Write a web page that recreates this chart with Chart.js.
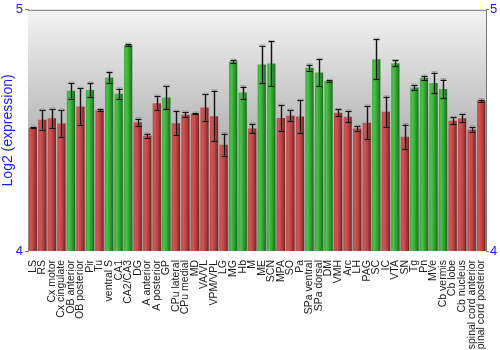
<!DOCTYPE html>
<html lang="en">
<head>
  <meta charset="UTF-8">
  <title>Log2 expression by region</title>
  <script src="https://cdn.jsdelivr.net/npm/chart.js"></script>
  <style>
    html, body { margin: 0; padding: 0; background: #fff; }
    #wrap { width: 500px; height: 350px; }
  </style>
</head>
<body>
  <div id="wrap"><canvas id="grafico"></canvas></div>

  <script>
    const regioes = ['LS', 'RS', 'Cx motor', 'Cx cingulate', 'OB anterior', 'OB posterior', 'Pir', 'Tu',
      'ventral S', 'CA1', 'CA2/CA3', 'DG', 'A anterior', 'A posterior', 'GP', 'CPu lateral', 'CPu medial',
      'MD', 'VA/VL', 'VPM/VPL', 'LG', 'MG', 'Hb', 'M', 'ME', 'SCN', 'MPA', 'SO', 'Pa', 'SPa ventral',
      'SPa dorsal', 'DM', 'VMH', 'Arc', 'LH', 'PAG', 'SC', 'IC', 'VTA', 'SN', 'Tg', 'Pn', 'MVe',
      'Cb vermis', 'Cb lobe', 'Cb nucleus', 'spinal cord anterior', 'spinal cord posterior'];

    const valores = [4.511, 4.544, 4.550, 4.529, 4.664, 4.599, 4.668, 4.584,
      4.719, 4.652, 4.854, 4.534, 4.478, 4.613, 4.636, 4.530, 4.565,
      4.569, 4.595, 4.559, 4.441, 4.786, 4.657, 4.508, 4.773, 4.777, 4.551, 4.561, 4.558, 4.760,
      4.740, 4.705, 4.573, 4.557, 4.508, 4.532, 4.795, 4.577, 4.778, 4.474, 4.678, 4.718, 4.697,
      4.672, 4.540, 4.550, 4.504, 4.623];

    const erros = [0.002, 0.041, 0.039, 0.056, 0.032, 0.076, 0.028, 0.003,
      0.022, 0.021, 0.004, 0.014, 0.008, 0.030, 0.048, 0.049, 0.011,
      0.003, 0.055, 0.105, 0.046, 0.006, 0.025, 0.019, 0.078, 0.092, 0.053, 0.024, 0.067, 0.012,
      0.055, 0.003, 0.014, 0.023, 0.009, 0.069, 0.083, 0.063, 0.012, 0.050, 0.010, 0.008, 0.043,
      0.039, 0.014, 0.017, 0.010, 0.005];

    // 1 = verde, 0 = vermelho
    const grupo = [0, 0, 0, 0, 1, 0, 1, 0,
      1, 1, 1, 0, 0, 0, 1, 0, 0,
      0, 0, 0, 0, 1, 1, 0, 1, 1, 0, 0, 0, 1,
      1, 1, 0, 0, 0, 0, 1, 0, 1, 0, 1, 1, 1,
      1, 0, 0, 0, 0];

    const eixoY = { min: 4, max: 5 };

    const azul = '#1a1aff';
    const larguraBarra = 0.86;

    // gradiente horizontal de cada barra (efeito cilindro)
    function corBarra(ctx) {
      const chart = ctx.chart;
      const x = chart.scales.x;
      if (!x || !chart.chartArea) return grupo[ctx.dataIndex] ? '#3aa83a' : '#b84040';
      const passo = (x.right - x.left) / regioes.length;
      const cx = x.getPixelForValue(ctx.dataIndex);
      const w = passo * larguraBarra;
      const g = chart.ctx.createLinearGradient(cx - w / 2, 0, cx + w / 2, 0);
      if (grupo[ctx.dataIndex]) {
        g.addColorStop(0, '#3aa63a');
        g.addColorStop(0.25, '#4cc24c');
        g.addColorStop(0.65, '#2e9e2e');
        g.addColorStop(1, '#147014');
      } else {
        g.addColorStop(0, '#bb4646');
        g.addColorStop(0.25, '#ce5656');
        g.addColorStop(0.65, '#b43e3e');
        g.addColorStop(1, '#7c1e1e');
      }
      return g;
    }

    const fundo = {
      id: 'fundo',
      beforeDatasetsDraw(chart) {
        const { ctx, chartArea: a } = chart;
        const g = ctx.createLinearGradient(0, a.top, 0, a.bottom);
        g.addColorStop(0, '#f4f4f4');
        g.addColorStop(0.5, '#b8b8b8');
        g.addColorStop(1, '#9a9a9a');
        ctx.save();
        ctx.fillStyle = g;
        ctx.fillRect(a.left, a.top, a.right - a.left, a.bottom - a.top);
        ctx.strokeStyle = '#777';
        ctx.lineWidth = 1;
        ctx.beginPath();
        ctx.moveTo(a.left, a.top + 0.5);
        ctx.lineTo(a.right, a.top + 0.5);
        ctx.stroke();
        ctx.restore();
      }
    };

    const barrasErro = {
      id: 'barrasErro',
      afterDatasetsDraw(chart) {
        const { ctx } = chart;
        const x = chart.scales.x, y = chart.scales.y;
        ctx.save();
        valores.forEach((v, i) => {
          const cx = Math.round(x.getPixelForValue(i)) + 0.5;
          const y1 = y.getPixelForValue(v + erros[i]);
          const y2 = y.getPixelForValue(v - erros[i]);
          ctx.strokeStyle = 'rgba(90,90,90,0.35)';
          ctx.lineWidth = 3;
          ctx.beginPath();
          ctx.moveTo(cx, y1); ctx.lineTo(cx, y2);
          ctx.moveTo(cx - 3, y1); ctx.lineTo(cx + 3, y1);
          ctx.moveTo(cx - 3, y2); ctx.lineTo(cx + 3, y2);
          ctx.stroke();
          ctx.strokeStyle = '#111';
          ctx.lineWidth = 1;
          ctx.beginPath();
          ctx.moveTo(cx, y1); ctx.lineTo(cx, y2);
          ctx.moveTo(cx - 3, Math.round(y1) + 0.5); ctx.lineTo(cx + 3, Math.round(y1) + 0.5);
          ctx.moveTo(cx - 3, Math.round(y2) + 0.5); ctx.lineTo(cx + 3, Math.round(y2) + 0.5);
          ctx.stroke();
        });
        ctx.restore();
      }
    };

    const ctx = document.getElementById('grafico').getContext('2d');
    new Chart(ctx, {
      type: 'bar',
      data: {
        labels: regioes,
        datasets: [{
          data: valores,
          backgroundColor: corBarra,
          borderWidth: 0,
          barPercentage: larguraBarra,
          categoryPercentage: 1,
          yAxisID: 'y'
        }]
      },
      options: {
        responsive: true,
        maintainAspectRatio: false,
        animation: false,
        layout: { padding: { top: 9 } },
        plugins: { legend: { display: false }, tooltip: { enabled: false } },
        scales: {
          x: {
            grid: { display: false },
            border: { display: false },
            ticks: {
              autoSkip: false,
              minRotation: 90,
              maxRotation: 90,
              padding: 1,
              color: '#222',
              font: { family: 'Liberation Sans, Arial, sans-serif', size: 10.5 }
            },
            afterFit(s) { s.height = 99; }
          },
          y: {
            position: 'left',
            min: eixoY.min,
            max: eixoY.max,
            grid: { drawOnChartArea: false, tickLength: 3, color: '#777' },
            border: { color: '#777' },
            ticks: {
              stepSize: 1,
              padding: 2,
              color: azul,
              font: { family: 'Liberation Sans, Arial, sans-serif', size: 13 }
            },
            title: {
              display: true,
              text: 'Log2 (expression)',
              color: azul,
              padding: 0,
              font: { family: 'Liberation Sans, Arial, sans-serif', size: 14 }
            },
            afterFit(s) { s.width = 28; }
          },
          y2: {
            position: 'right',
            min: eixoY.min,
            max: eixoY.max,
            grid: { drawOnChartArea: false, tickLength: 3, color: '#777' },
            border: { color: '#777' },
            ticks: {
              stepSize: 1,
              padding: 1,
              color: azul,
              font: { family: 'Liberation Sans, Arial, sans-serif', size: 13 }
            },
            afterFit(s) { s.width = 14; }
          }
        }
      },
      plugins: [fundo, barrasErro]
    });
  </script>
</body>
</html>
